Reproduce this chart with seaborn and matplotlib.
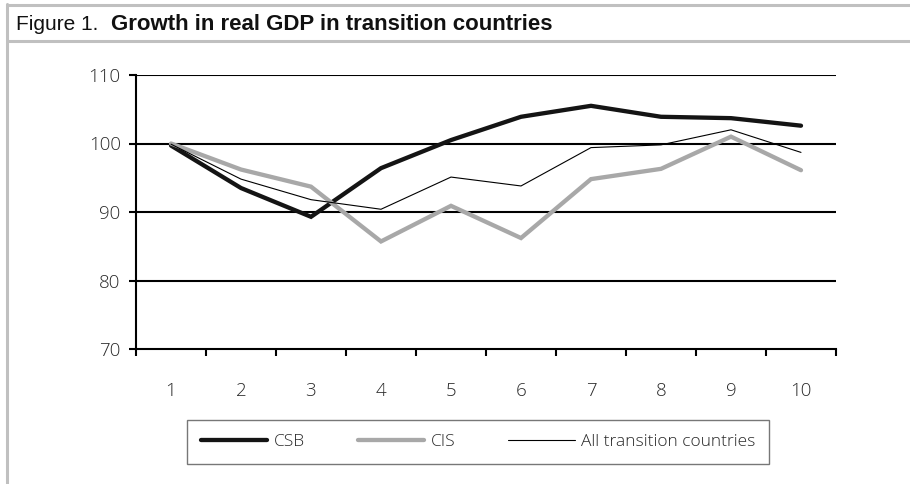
import matplotlib
matplotlib.use("Agg")
import matplotlib.pyplot as plt
from matplotlib.lines import Line2D
import seaborn as sns
import pandas as pd

# ---- data ----
periods = [1, 2, 3, 4, 5, 6, 7, 8, 9, 10]
csb = [99.7, 93.5, 89.3, 96.4, 100.5, 103.9, 105.5, 103.9, 103.7, 102.6]
cis = [100.0, 96.2, 93.7, 85.7, 90.9, 86.2, 94.8, 96.3, 101.0, 96.1]
all_tc = [99.9, 94.8, 91.8, 90.4, 95.1, 93.8, 99.4, 99.8, 102.0, 98.7]
series_names = ["CSB", "CIS", "All transition countries"]
y_ticks = [70, 80, 90, 100, 110]
title_prefix = "Figure 1."
title_main = "Growth in real GDP in transition countries"

df = pd.DataFrame({
    "pos": list(range(len(periods))) * 3,
    "value": csb + cis + all_tc,
    "series": [series_names[0]] * 10 + [series_names[1]] * 10 + [series_names[2]] * 10,
})

sns.set_theme(style="white")
plt.rcParams["font.family"] = ["Open Sans", "DejaVu Sans"]

W, H = 910, 484
fig = plt.figure(figsize=(W / 100, H / 100), dpi=100)
ax = fig.add_axes([136 / W, 1 - 349 / H, 700 / W, 274 / H])

styles = {
    series_names[0]: dict(color="#141414", lw=3.1),
    series_names[1]: dict(color="#a8a8a8", lw=3.1),
    series_names[2]: dict(color="#000000", lw=0.8),
}
for name in series_names:
    sub = df[df["series"] == name]
    sns.lineplot(data=sub, x="pos", y="value", ax=ax, color=styles[name]["color"],
                 linewidth=styles[name]["lw"], label=name, legend=False, zorder=3,
                 solid_joinstyle="miter")

txt_color = "#2a2a2a"
ax.set_ylim(70, 110)
ax.set_xlim(-0.5, len(periods) - 0.5)
ax.set_yticks(y_ticks)
ax.set_yticklabels([str(v) for v in y_ticks], fontsize=13.5, color=txt_color, fontweight="light")
ax.set_xticks([i - 0.5 for i in range(len(periods) + 1)])
ax.set_xticklabels([])
ax.set_xticks(list(range(len(periods))), minor=True)
ax.set_xticklabels([str(p) for p in periods], minor=True, fontsize=13.5, color=txt_color,
                   fontweight="light")
ax.tick_params(axis="x", which="major", direction="out", length=5, width=1.5, color="black", bottom=True)
ax.tick_params(axis="x", which="minor", length=0, pad=24, bottom=True)
ax.tick_params(axis="y", direction="out", length=5, width=1.5, color="black", left=True, pad=6)
ax.set_xlabel("")
ax.set_ylabel("")
for y in y_ticks[1:]:
    ax.axhline(y, color="black", lw=1.5, zorder=1)
for s in ["top", "right"]:
    ax.spines[s].set_visible(False)
for s in ["left", "bottom"]:
    ax.spines[s].set_color("black")
    ax.spines[s].set_linewidth(1.5)

handles = [Line2D([], [], color=styles[n]["color"], lw=styles[n]["lw"]) for n in series_names]
leg = fig.legend(handles, series_names, loc="center",
                 bbox_to_anchor=((183 + 773) / 2 / W, 1 - 442 / H), ncol=3,
                 prop={"size": 12.5, "weight": "light"}, handlelength=3.85, handletextpad=0.35,
                 columnspacing=3.05, frameon=True, fancybox=False, edgecolor="#555555",
                 borderpad=0.8)
leg.get_frame().set_linewidth(1.0)
for t in leg.get_texts():
    t.set_color(txt_color)

# frame lines
fig.add_artist(Line2D([6.5 / W, 1], [1 - 5 / H, 1 - 5 / H], color="#c0c0c0", lw=2.2))
fig.add_artist(Line2D([6.5 / W, 1], [1 - 41 / H, 1 - 41 / H], color="#c0c0c0", lw=2.2))
fig.add_artist(Line2D([6.5 / W, 6.5 / W], [0, 1 - 4 / H], color="#c0c0c0", lw=2.2))

tfam = ["Liberation Sans", "DejaVu Sans"]
fig.text(16 / W, 1 - 24 / H, title_prefix, fontsize=15, va="center", ha="left",
         family=tfam, color="#111111")
fig.text(111 / W, 1 - 24 / H, title_main, fontsize=16, va="center", ha="left", fontweight="bold",
         family=tfam, color="#111111")

fig.savefig("out.png", dpi=100, facecolor="white")
